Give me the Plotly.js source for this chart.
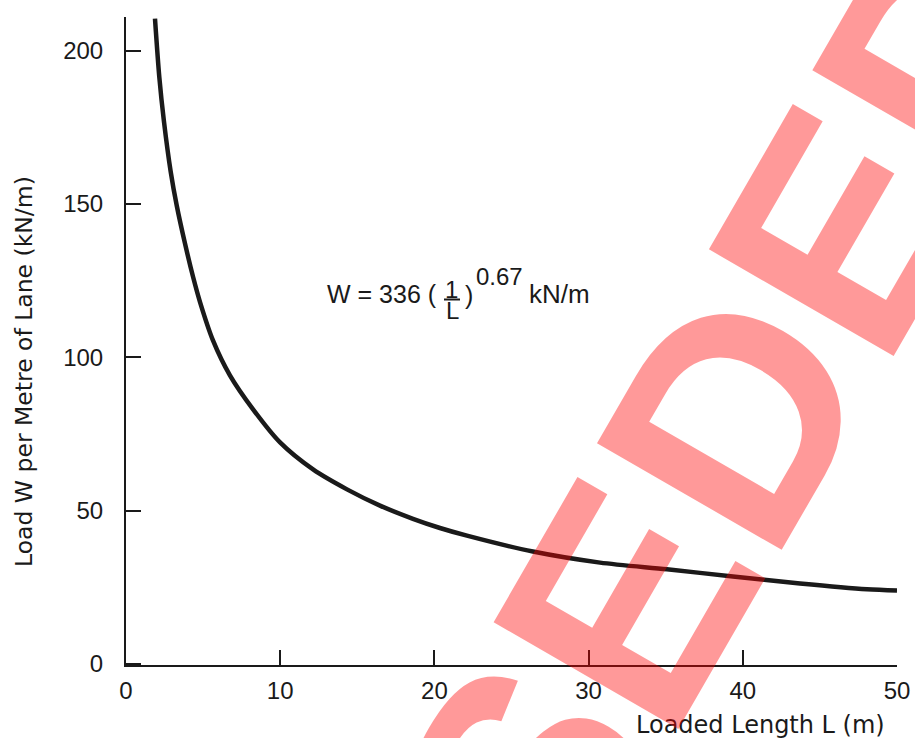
<!DOCTYPE html>
<html>
<head>
<meta charset="utf-8">
<script src="https://cdn.plot.ly/plotly-3.0.1.min.js"></script>
<style>
html,body{margin:0;padding:0;background:#ffffff;}
#chart{width:915px;height:738px;}
</style>
</head>
<body>
<div id="chart"></div>
<script>
// ---- data ----
const loadedLength = [1.88, 2.16, 2.46, 2.90, 3.29, 3.83, 4.36, 4.80, 5.64, 6.74, 8.24, 9.99, 12.13, 14.33, 16.47, 18.61, 20.36, 22.11, 26.39, 30.74, 35.08, 39.36, 43.71, 48.05, 50.0];
const loadPerMetre = [210.5, 191.4, 177.0, 160.5, 149.5, 137.0, 126.0, 118.0, 105.5, 94.1, 83.0, 72.2, 63.4, 56.9, 51.6, 47.3, 44.3, 41.8, 36.6, 33.0, 30.8, 28.5, 26.2, 24.3, 23.9];
const xTickValues = [0, 10, 20, 30, 40, 50];
const yTickValues = [0, 50, 100, 150, 200];
const xAxisTitle = 'Loaded Length L (m)';
const yAxisTitle = 'Load W per Metre of Lane (kN/m)';
const equationParts = ['W = 336 (', '1', 'L', ')', '0.67', 'kN/m'];
const watermarkText = 'SUPERSEDED';

// ---- layout geometry ----
const FIG_W = 915, FIG_H = 738;
const M = {l: 126, r: 18, t: 17, b: 73};
const PW = FIG_W - M.l - M.r, PH = FIG_H - M.t - M.b;
const px = x => (x - M.l) / PW;
const py = y => (FIG_H - M.b - y) / PH;

const ink = '#1a1a1a';
const sans = 'Liberation Sans, Arial, Helvetica, sans-serif';
const wide = 'DejaVu Sans, Liberation Sans, sans-serif';

const trace = {
  x: loadedLength,
  y: loadPerMetre,
  type: 'scatter',
  mode: 'lines',
  line: {color: ink, width: 4.5, shape: 'spline', smoothing: 0.8},
  hoverinfo: 'x+y',
  showlegend: false
};

function txt(text, xp, yp, size, xanchor, family, extra) {
  return Object.assign({
    text: text, xref: 'paper', yref: 'paper', x: px(xp), y: py(yp),
    xanchor: xanchor, yanchor: 'middle', showarrow: false,
    font: {family: family || sans, size: size, color: ink}
  }, extra || {});
}

const annotations = [
  txt(yAxisTitle, 24, 372, 23.5, 'center', wide, {textangle: -90}),
  txt(xAxisTitle, 887, 725, 24, 'right', wide),
  txt(equationParts[0], 325, 294, 25, 'left'),
  txt(equationParts[1], 451, 289.5, 24, 'center'),
  txt(equationParts[2], 452, 310.5, 24, 'center'),
  txt(equationParts[3], 463, 295, 25, 'left'),
  txt(equationParts[4], 474, 276.5, 24, 'left'),
  txt(equationParts[5], 527, 294, 26, 'left'),
  {
    text: watermarkText, xref: 'paper', yref: 'paper',
    x: px(471), y: py(872), xanchor: 'center', yanchor: 'middle',
    showarrow: false, textangle: -60,
    font: {family: sans, size: 310, color: 'rgba(255,0,0,0.4)', weight: 'bold'}
  }
];

const shapes = [
  {type: 'line', xref: 'paper', yref: 'paper',
   x0: px(444), x1: px(460), y0: py(299.5), y1: py(299.5),
   line: {color: ink, width: 2}}
];

const axisCommon = {
  showline: true, linecolor: ink, linewidth: 2,
  ticks: 'inside', ticklen: 15, tickwidth: 2, tickcolor: ink,
  showgrid: false, zeroline: false,
  tickfont: {family: sans, size: 24, color: ink},
  tickmode: 'array', fixedrange: true
};

const layout = {
  width: FIG_W, height: FIG_H,
  margin: M,
  paper_bgcolor: '#ffffff', plot_bgcolor: '#ffffff',
  showlegend: false,
  xaxis: Object.assign({}, axisCommon, {
    range: [0, 50], tickvals: xTickValues,
    ticktext: xTickValues.map(String),
    ticklabelstandoff: 3
  }),
  yaxis: Object.assign({}, axisCommon, {
    range: [-0.4, 211.0], tickvals: yTickValues,
    ticktext: yTickValues.map(String),
    ticklabelstandoff: 16
  }),
  annotations: annotations,
  shapes: shapes
};

Plotly.newPlot('chart', [trace], layout, {displayModeBar: false, staticPlot: true});
</script>
</body>
</html>
